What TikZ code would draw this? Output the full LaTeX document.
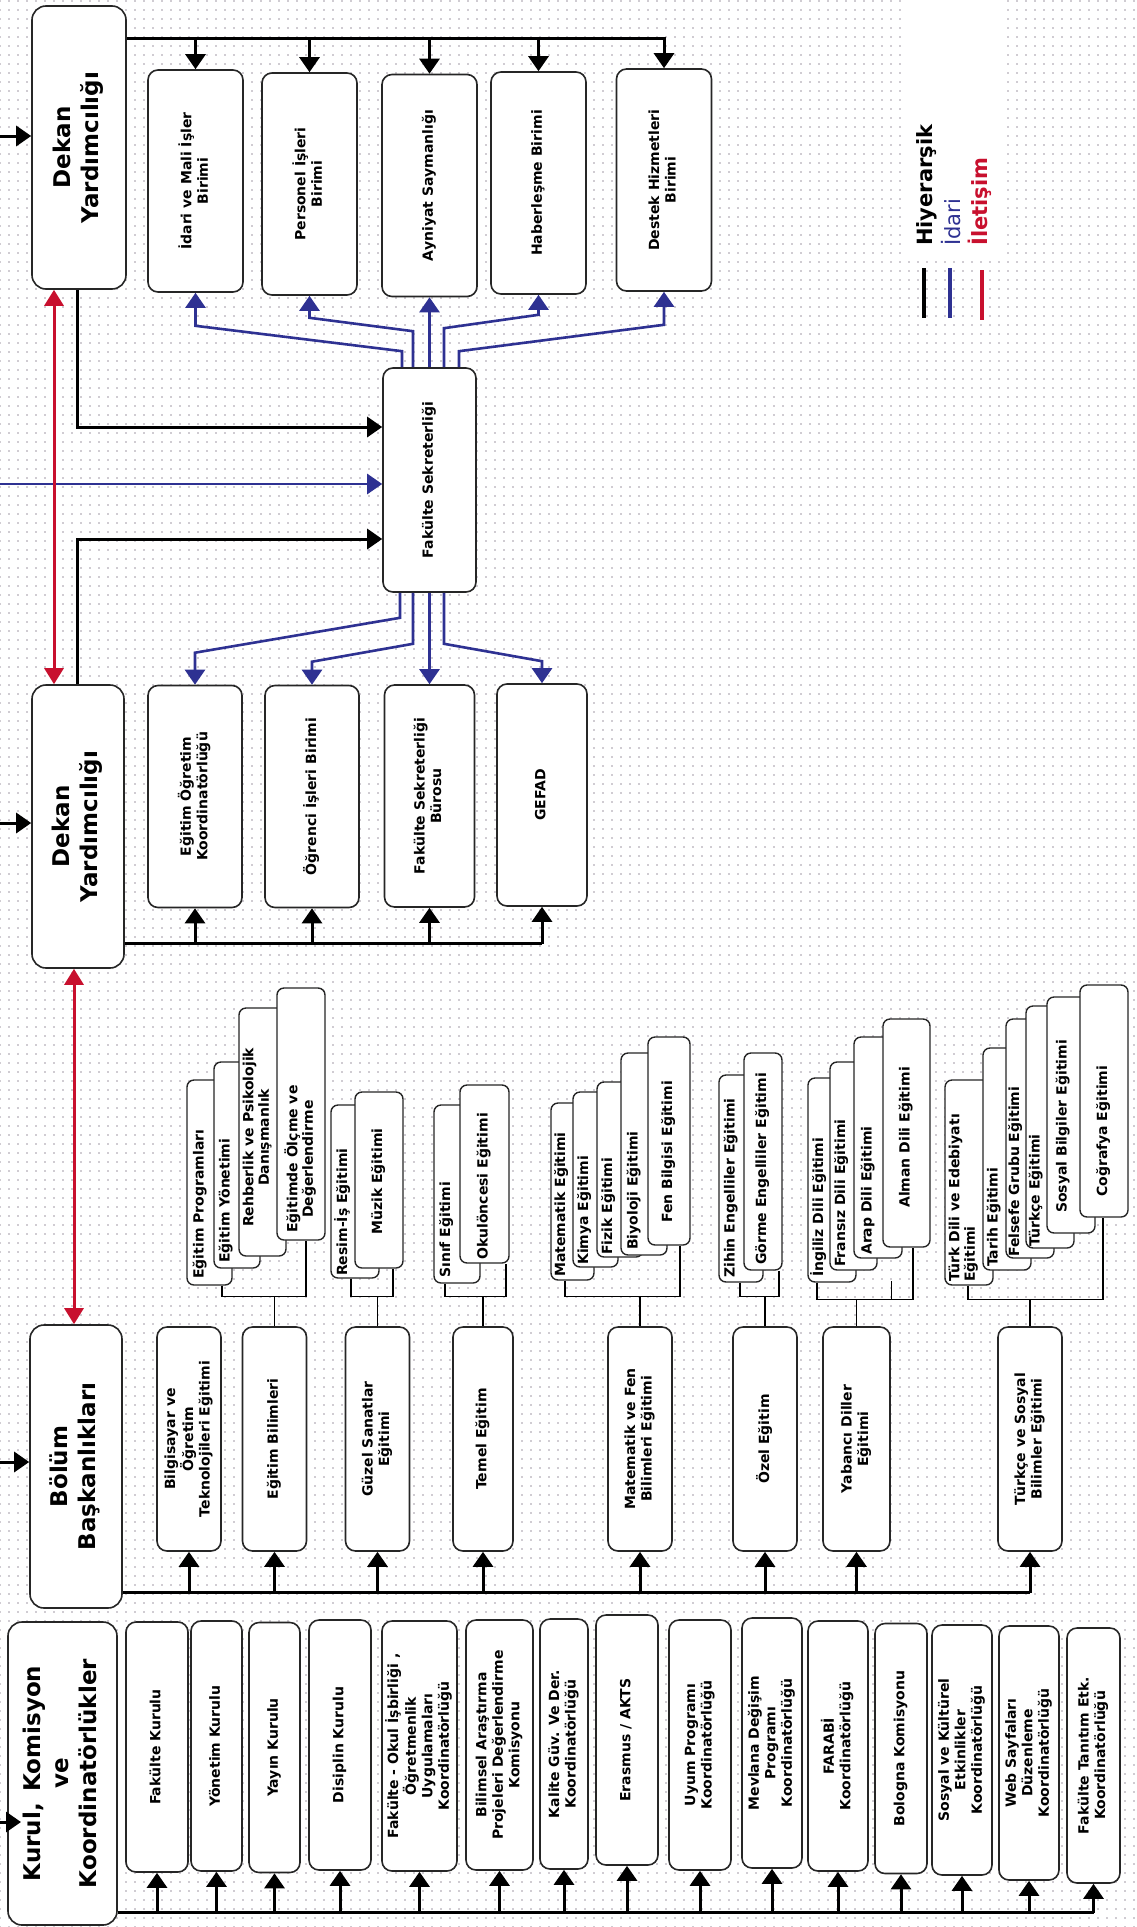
\documentclass[tikz,border=0pt]{standalone}
\usepackage{fontspec}
\setmainfont{DejaVu Sans}
\usepackage{graphicx}
\usetikzlibrary{arrows.meta,patterns.meta}
\definecolor{admblue}{RGB}{46,49,146}
\definecolor{comred}{RGB}{200,16,46}
\definecolor{dotcol}{RGB}{120,110,125}
\newcommand{\fbig}{\bfseries\fontsize{23}{28}\selectfont}
\newcommand{\fmed}{\bfseries\fontsize{14}{16.5}\selectfont}
\newcommand{\fstk}{\bfseries\fontsize{14}{15.5}\selectfont}
\newcommand{\fleg}{\fontsize{21}{25}\selectfont}
\newcommand{\vtx}[2][c]{\rotatebox{90}{\begin{tabular}{@{}#1@{}}#2\end{tabular}}}
\newcommand{\stkn}[5]{\node[stk, minimum width=#4pt, minimum height=#5pt] (#1) at (#2,#3) {};}
\begin{document}
\begin{tikzpicture}[x=1pt,y=-1pt,
  box/.style={draw=black!85, line width=1.6pt, fill=white, rounded corners=10pt, inner sep=0pt, font=\fmed},
  bigbox/.style={box, rounded corners=14pt, font=\fbig},
  toprow/.style={box, minimum width=95pt, minimum height=222pt},
  secrow/.style={box, minimum width=94pt, minimum height=222pt},
  dept/.style={box, minimum width=64pt, minimum height=224pt},
  kbox/.style={box, minimum height=250pt},
  stk/.style={draw=black!85, line width=1.4pt, fill=white, rounded corners=7pt, inner sep=0pt},
  stxt/.style={inner sep=0pt, anchor=south, font=\fstk},
  brk/.style={line width=1.2pt, black},
  hier/.style={line width=3pt, black},
  harrow/.style={hier, -{Triangle[width=20pt,length=15pt]}},
  adm/.style={line width=2.6pt, admblue, -{Triangle[width=20pt,length=15pt]}},
  rcom/.style={line width=3pt, comred, {Triangle[width=19pt,length=16pt]}-{Triangle[width=19pt,length=16pt]}},
  legtxt/.style={inner sep=0pt, anchor=south, font=\fleg}
]
\useasboundingbox (0,0) rectangle (1136,1927);
\fill[white] (0,0) rectangle (1136,1927);
\fill[pattern={Dots[distance=9pt,radius=0.85pt]}, pattern color=dotcol!70] (0,0) rectangle (1136,1927);
\fill[white] (903,0) rectangle (1004,255);

% main boxes
\node[bigbox, minimum width=94pt, minimum height=283pt] (d1) at (79,147.5) {\vtx{Dekan\\Yardımcılığı}};
\node[bigbox, minimum width=92pt, minimum height=283pt] (d2) at (78,826.5) {\vtx{Dekan\\Yardımcılığı}};
\node[bigbox, minimum width=92pt, minimum height=283pt] (bol) at (76,1466.5) {\vtx{Bölüm\\Başkanlıkları}};
\node[bigbox, minimum width=109pt, minimum height=303pt] (kur) at (62.5,1773.5) {\vtx{Kurul,\enspace Komisyon\\ve\\Koordinatörlükler}};

% top row
\node[toprow] (idari) at (195.5,181) {\vtx{İdari ve Mali İşler\\Birimi}};
\node[toprow] (pers) at (309.5,184) {\vtx{Personel İşleri\\Birimi}};
\node[toprow] (ayn) at (429.5,185.5) {\vtx{Ayniyat Saymanlığı}};
\node[toprow] (hab) at (538.5,183) {\vtx{Haberleşme Birimi}};
\node[toprow] (destek) at (664,180) {\vtx{Destek Hizmetleri\\Birimi}};

\node[box, minimum width=93pt, minimum height=224pt] (fs) at (429.5,480) {\vtx{Fakülte Sekreterliği}};

% second row
\node[secrow] (eok) at (195,796.5) {\vtx{Eğitim Öğretim\\Koordinatörlüğü}};
\node[secrow] (oib) at (312,796.5) {\vtx{Öğrenci İşleri Birimi}};
\node[secrow, minimum width=90pt] (fsb) at (429.5,796) {\vtx{Fakülte Sekreterliği\\Bürosu}};
\node[secrow, minimum width=90pt] (gef) at (542,795) {\vtx{GEFAD}};

% departments
\node[dept] (dbil) at (189,1439) {\vtx{Bilgisayar ve\\Öğretim\\Teknolojileri Eğitimi}};
\node[dept] (deb) at (274.5,1439) {\vtx{Eğitim Bilimleri}};
\node[dept] (dgs) at (377.5,1439) {\vtx{Güzel Sanatlar\\Eğitimi}};
\node[dept, minimum width=60pt] (dte) at (483,1439) {\vtx{Temel Eğitim}};
\node[dept] (dmf) at (640,1439) {\vtx{Matematik ve Fen\\Bilimleri Eğitimi}};
\node[dept] (doe) at (765,1439) {\vtx{Özel Eğitim}};
\node[dept, minimum width=67pt] (dyd) at (856.5,1439) {\vtx{Yabancı Diller\\Eğitimi}};
\node[dept] (dts) at (1030,1439) {\vtx{Türkçe ve Sosyal\\Bilimler Eğitimi}};

% committees
\node[kbox, minimum width=62pt] (c1) at (157,1747) {\vtx{Fakülte Kurulu}};
\node[kbox, minimum width=51pt] (c2) at (216.5,1746) {\vtx{Yönetim Kurulu}};
\node[kbox, minimum width=51pt] (c3) at (274.5,1747.5) {\vtx{Yayın Kurulu}};
\node[kbox, minimum width=62pt] (c4) at (340,1745) {\vtx{Disiplin Kurulu}};
\node[kbox, minimum width=75pt] (c5) at (419.5,1746) {\vtx{Fakülte - Okul İşbirliği ,\\Öğretmenlik\\Uygulamaları\\Koordinatörlüğü}};
\node[kbox, minimum width=67pt] (c6) at (499.5,1745) {\vtx{Bilimsel Araştırma\\Projeleri Değerlendirme\\Komisyonu}};
\node[kbox, minimum width=48pt] (c7) at (564,1744) {\vtx{Kalite Güv. Ve Der.\\Koordinatörlüğü}};
\node[kbox, minimum width=62pt] (c8) at (627,1740) {\vtx{Erasmus / AKTS}};
\node[kbox, minimum width=62pt] (c9) at (700,1745) {\vtx{Uyum Programı\\Koordinatörlüğü}};
\node[kbox, minimum width=60pt] (c10) at (772,1743) {\vtx{Mevlana Değişim\\Programı\\Koordinatörlüğü}};
\node[kbox, minimum width=60pt] (c11) at (838,1746) {\vtx{FARABİ\\Koordinatörlüğü}};
\node[kbox, minimum width=52pt] (c12) at (901,1748.5) {\vtx{Bologna Komisyonu}};
\node[kbox, minimum width=60pt] (c13) at (962,1750) {\vtx{Sosyal ve Kültürel\\Etkinlikler\\Koordinatörlüğü}};
\node[kbox, minimum width=60pt, minimum height=254pt] (c14) at (1029,1753) {\vtx{Web Sayfaları\\Düzenleme\\Koordinatörlüğü}};
\node[kbox, minimum width=53pt, minimum height=255pt] (c15) at (1093.5,1755.5) {\vtx{Fakülte Tanıtım Etk.\\Koordinatörlüğü}};

% stacked programme boxes
\stkn{a1}{209.5}{1182.5}{45}{205} \node[stxt] (a1t) at (200.5,1279) {\vtx{Eğitim Programları}};
\stkn{a2}{237}{1165}{46}{206} \node[stxt] (a2t) at (226.5,1263) {\vtx{Eğitim Yönetimi}};
\stkn{a3}{262.5}{1132}{47}{248} \node[stxt] (a3t) at (258,1227) {\vtx{Rehberlik ve Psikolojik\\Danışmanlık}};
\stkn{a4}{301}{1114}{48}{252} \node[stxt] (a4t) at (301,1233) {\vtx{Eğitimde Ölçme ve\\Değerlendirme}};

\stkn{g1}{355}{1191.5}{48}{173} \node[stxt] (g1t) at (343,1276) {\vtx{Resim-İş Eğitimi}};
\stkn{g2}{379}{1180}{48}{176} \node[stxt] (g2t) at (379,1235) {\vtx{Müzik Eğitimi}};

\stkn{t1}{457}{1194}{46}{178} \node[stxt] (t1t) at (447,1278) {\vtx{Sınıf Eğitimi}};
\stkn{t2}{484.5}{1174}{49}{178} \node[stxt] (t2t) at (484.5,1260) {\vtx{Okulöncesi Eğitimi}};

\stkn{m1}{572.5}{1191.5}{43}{177} \node[stxt] (m1t) at (562,1277) {\vtx{Matematik Eğitimi}};
\stkn{m2}{595.5}{1179.5}{45}{175} \node[stxt] (m2t) at (585,1265) {\vtx{Kimya Eğitimi}};
\stkn{m3}{620}{1169.5}{46}{175} \node[stxt] (m3t) at (609,1255) {\vtx{Fizik Eğitimi}};
\stkn{m4}{644}{1154}{46}{202} \node[stxt] (m4t) at (634.5,1250) {\vtx{Biyoloji Eğitimi}};
\stkn{m5}{669}{1141}{42}{208} \node[stxt] (m5t) at (669,1223) {\vtx{Fen Bilgisi Eğitimi}};

\stkn{z1}{741}{1178.5}{44}{207} \node[stxt] (z1t) at (731.5,1278) {\vtx{Zihin Engelliler Eğitimi}};
\stkn{z2}{763}{1161.5}{38}{217} \node[stxt] (z2t) at (763,1265) {\vtx{Görme Engelliler Eğitimi}};

\stkn{y1}{832}{1180}{48}{204} \node[stxt] (y1t) at (819,1277) {\vtx{İngiliz Dili Eğitimi}};
\stkn{y2}{853.5}{1166}{47}{208} \node[stxt] (y2t) at (842,1267) {\vtx{Fransız Dili Eğitimi}};
\stkn{y3}{878}{1147.5}{48}{221} \node[stxt] (y3t) at (868.5,1255) {\vtx{Arap Dili Eğitimi}};
\stkn{y4}{906.5}{1133}{47}{228} \node[stxt] (y4t) at (906.5,1208) {\vtx{Alman Dili Eğitimi}};

\stkn{s1}{969}{1182.5}{48}{205} \node[stxt] (s1t) at (964,1282) {\vtx[l]{Türk Dili ve Edebiyatı\\Eğitimi}};
\stkn{s2}{1007}{1159}{48}{222} \node[stxt] (s2t) at (994.5,1267) {\vtx{Tarih Eğitimi}};
\stkn{s3}{1030}{1138.5}{48}{239} \node[stxt] (s3t) at (1016,1257) {\vtx{Felsefe Grubu Eğitimi}};
\stkn{s4}{1050}{1127}{48}{242} \node[stxt] (s4t) at (1036.5,1247) {\vtx{Türkçe Eğitimi}};
\stkn{s5}{1071}{1115}{48}{236} \node[stxt] (s5t) at (1063.5,1213) {\vtx{Sosyal Bilgiler Eğitimi}};
\stkn{s6}{1104}{1101}{48}{232} \node[stxt] (s6t) at (1104,1197) {\vtx{Coğrafya Eğitimi}};

% brackets
\coordinate (ga) at ([yshift=30pt]deb.north);
\coordinate (gg) at ([yshift=30pt]dgs.north);
\coordinate (gt) at ([yshift=30pt]dte.north);
\coordinate (gm) at ([yshift=30pt]dmf.north);
\coordinate (gz) at ([yshift=30pt]doe.north);
\coordinate (gy) at ([yshift=27pt]dyd.north);
\coordinate (gs) at ([yshift=27pt]dts.north);
\draw[brk] ([xshift=12.5pt]a1.south) |- (ga) -| ([xshift=5pt]a4.south);
\draw[brk] ([xshift=-4pt]g1.south) |- (gg) -| ([xshift=14pt]g2.south);
\draw[brk] ([xshift=-12pt]t1.south) |- (gt) -| ([xshift=21.5pt]t2.south);
\draw[brk] ([xshift=-7.5pt]m1.south) |- (gm) -| ([xshift=11pt]m5.south);
\draw[brk] ([xshift=-1pt]z1.south) |- (gz) -| ([xshift=16pt]z2.south);
\draw[brk] ([xshift=-15pt]y1.south) |- (gy) -| ([xshift=6.5pt]y4.south);
\draw[brk] ([xshift=35pt]gy) -- ++(0,-18);
\draw[brk] ([xshift=-1pt]s1.south) |- (gs) -| ([xshift=-1pt]s6.south);
\draw[brk] (ga) -- (deb.north);
\draw[brk] (gg) -- (dgs.north);
\draw[brk] (gt) -- (dte.north);
\draw[brk] (gm) -- (dmf.north);
\draw[brk] (gz) -- (doe.north);
\draw[brk] (gy) -- (dyd.north);
\draw[brk] (gs) -- (dts.north);

% inputs from the left
\coordinate (in1) at (0,136);
\coordinate (in2) at (0,823);
\coordinate (in3) at (0,1462);
\coordinate (in4) at (0,1822);
\coordinate (bin) at (0,484);
\draw[harrow] (in1) -- (in1 -| d1.west);
\draw[harrow] (in2) -- (in2 -| d2.west);
\draw[harrow] (in3) -- (in3 -| bol.west);
\draw[harrow] (in4) -- ++(21,0);
\draw[adm] (bin) -- (bin -| fs.west);

% hierarchy: top row
\coordinate (t0) at ([yshift=-33pt]d1.north east);
\draw[harrow] (t0) -| (destek.north);
\foreach \n in {idari,pers,ayn,hab} \draw[harrow] (\n.north |- t0) -- (\n.north);

% hierarchy to Fakulte Sekreterligi
\draw[harrow] ([xshift=-2pt]d1.south) |- ([yshift=53pt]fs.west);
\draw[harrow] ([xshift=-1pt]d2.north) |- ([yshift=-59pt]fs.west);

% hierarchy: second row
\coordinate (t2) at ([yshift=25pt]d2.south east);
\draw[hier] (t2) -- (t2 -| gef.south);
\foreach \n in {eok,oib,fsb,gef} \draw[harrow] (\n.south |- t2) -- (\n.south);

% hierarchy: departments
\coordinate (t3) at ([yshift=16pt]bol.south east);
\draw[hier] (t3) -- (t3 -| dts.south);
\foreach \n in {dbil,deb,dgs,dte,dmf,doe,dyd,dts} \draw[harrow] (\n.south |- t3) -- (\n.south);

% hierarchy: committees
\coordinate (t4) at ([yshift=13pt]kur.south east);
\draw[hier] (t4) -- (t4 -| c15.south);
\foreach \i in {1,...,15} \draw[harrow] (c\i.south |- t4) -- (c\i.south);

% administrative (blue)
\draw[adm] ([xshift=-27.5pt]fs.north) -- ++(0,-16) -- ([yshift=-33pt]idari.south) -- (idari.south);
\draw[adm] ([xshift=-16.5pt]fs.north) -- ++(0,-36) -- ([yshift=-22pt]pers.south) -- (pers.south);
\draw[adm] (fs.north) -- (ayn.south);
\draw[adm] ([xshift=14.5pt]fs.north) -- ++(0,-39) -- ([yshift=-20pt]hab.south) -- (hab.south);
\draw[adm] ([xshift=29.5pt]fs.north) -- ++(0,-16) -- ([yshift=-33pt]destek.south) -- (destek.south);
\draw[adm] ([xshift=-29.5pt]fs.south) -- ++(0,25) -- ([yshift=32pt]eok.north) -- (eok.north);
\draw[adm] ([xshift=-16.5pt]fs.south) -- ++(0,51) -- ([yshift=23pt]oib.north) -- (oib.north);
\draw[adm] (fs.south) -- (fsb.north);
\draw[adm] ([xshift=14.5pt]fs.south) -- ++(0,51) -- ([yshift=22pt]gef.north) -- (gef.north);

% communication (red)
\draw[rcom] ([xshift=-25pt]d1.south) -- ([xshift=-24pt]d2.north);
\draw[rcom] ([xshift=-4pt]d2.south) -- ([xshift=-2pt]bol.north);

% legend
\node[legtxt] (lh) at (927,246) {\rotatebox{90}{\bfseries Hiyerarşik}};
\node[legtxt, text=admblue] (li) at (951,246) {\rotatebox{90}{İdari}};
\node[legtxt, text=comred] (lc) at (980,246) {\rotatebox{90}{\bfseries İletişim}};
\draw[line width=3.5pt, black] (924,268) -- (924,318);
\draw[line width=3.5pt, admblue] (950,268) -- (950,318);
\draw[line width=3.5pt, comred] (982,270) -- (982,320);
\end{tikzpicture}
\end{document}
